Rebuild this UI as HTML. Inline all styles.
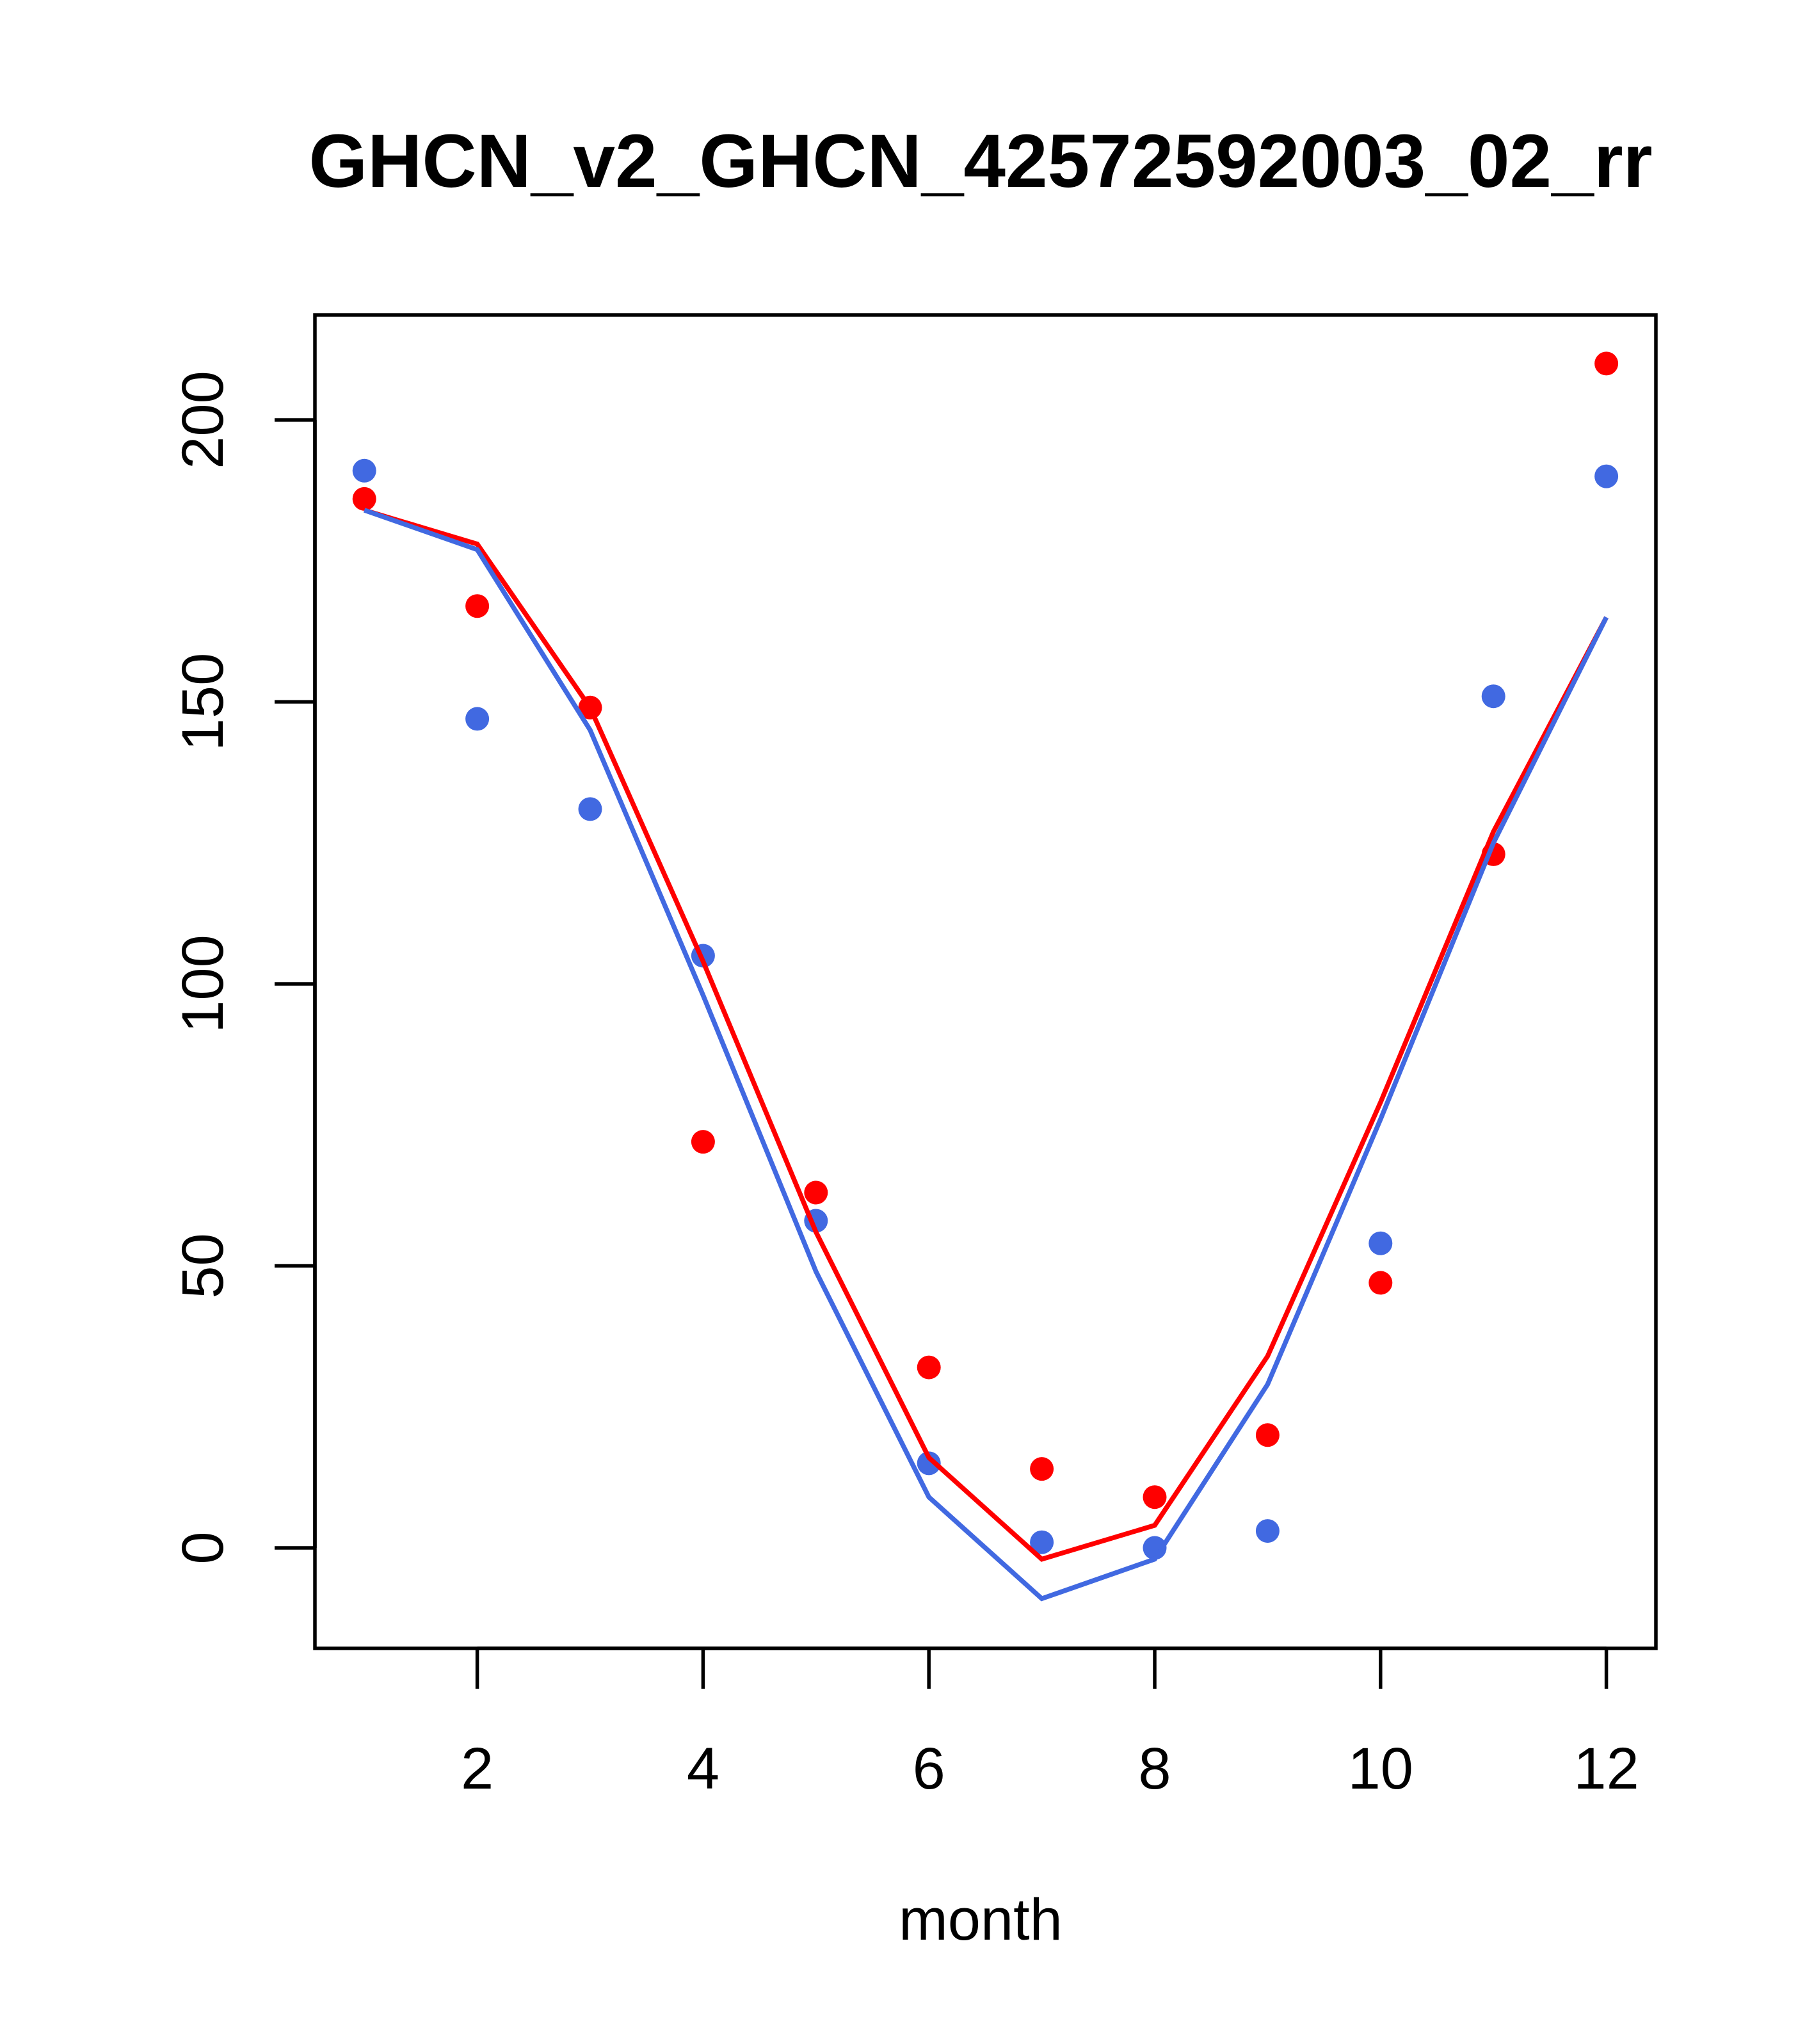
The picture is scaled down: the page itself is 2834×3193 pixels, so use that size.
<!DOCTYPE html>
<html><head><meta charset="utf-8"><style>html,body{margin:0;padding:0;background:#fff}</style></head>
<body>
<svg id="chart" width="2834" height="3188" xmlns="http://www.w3.org/2000/svg" font-family="Liberation Sans, sans-serif">
<rect width="2834" height="3188" fill="#fff"/>
<text x="1532" y="292" font-size="118" font-weight="bold" text-anchor="middle">GHCN_v2_GHCN_42572592003_02_rr</text>
<rect x="492" y="492" width="2095" height="2083" fill="none" stroke="#000" stroke-width="5.5"/>
<g id="axes"></g>
<g id="marks"></g>
<text x="1532" y="3030" font-size="92" text-anchor="middle">month</text>
</svg>
<script>
const months = [1,2,3,4,5,6,7,8,9,10,11,12];
const bluePoints = [191,147,131,105,58,15,1,0,3,54,151,190];
const redPoints = [186,167,149,72,63,32,14,9,20,47,123,210];
const redLine = [184,178,149,104,56,16,-2,4,34,79,127,165];
const blueLine = [184,177,145,98,49,9,-9,-2,29,76,125,165];
const xTicks = [2,4,6,8,10,12];
const yTicks = [0,50,100,150,200];

const NS = "http://www.w3.org/2000/svg";
function sx(m){ return 745.6 + (m-2)*176.4; }
function sy(v){ return 2418 - v*8.81; }
const axes = document.getElementById('axes');
const marks = document.getElementById('marks');
function mk(tag, attrs, parent){ const e=document.createElementNS(NS,tag); for(const k in attrs) e.setAttribute(k,attrs[k]); parent.appendChild(e); return e; }

mk('line',{x1:sx(2),x2:sx(12),y1:2575,y2:2575,stroke:'#000','stroke-width':5.5},axes);
xTicks.forEach(t=>{
  const l=mk('line',{x1:sx(t),x2:sx(t),y1:2575,y2:2638,stroke:'#000','stroke-width':5.5},axes);
  
  
  const tx=mk('text',{x:sx(t),y:2794,'font-size':92,'text-anchor':'middle'},axes);
  tx.textContent=t;
  
  
});
mk('line',{x1:492,x2:492,y1:sy(0),y2:sy(200),stroke:'#000','stroke-width':5.5},axes);
yTicks.forEach(t=>{
  const l=mk('line',{x1:429,x2:492,y1:sy(t),y2:sy(t),stroke:'#000','stroke-width':5.5},axes);
  
  
  const tx=mk('text',{x:348,y:sy(t),'font-size':92,'text-anchor':'middle',transform:`rotate(-90 348 ${sy(t)})`},axes);
  tx.textContent=t;
  
  
});
function line(vals,color,name){
  const p=mk('polyline',{points:vals.map((v,i)=>sx(months[i])+','+sy(v)).join(' '),fill:'none',stroke:color,'stroke-width':7.5},marks);
  
  
}
function pts(vals,color,name){
  vals.forEach((v,i)=>{
    const c=mk('circle',{cx:sx(months[i]),cy:sy(v),r:18.5,fill:color},marks);
    
    
  });
}
pts(bluePoints,'#4169e1','blue-point');
pts(redPoints,'#ff0000','red-point');
line(redLine,'#ff0000','red-line');
line(blueLine,'#4169e1','blue-line');
</script>
</body></html>
